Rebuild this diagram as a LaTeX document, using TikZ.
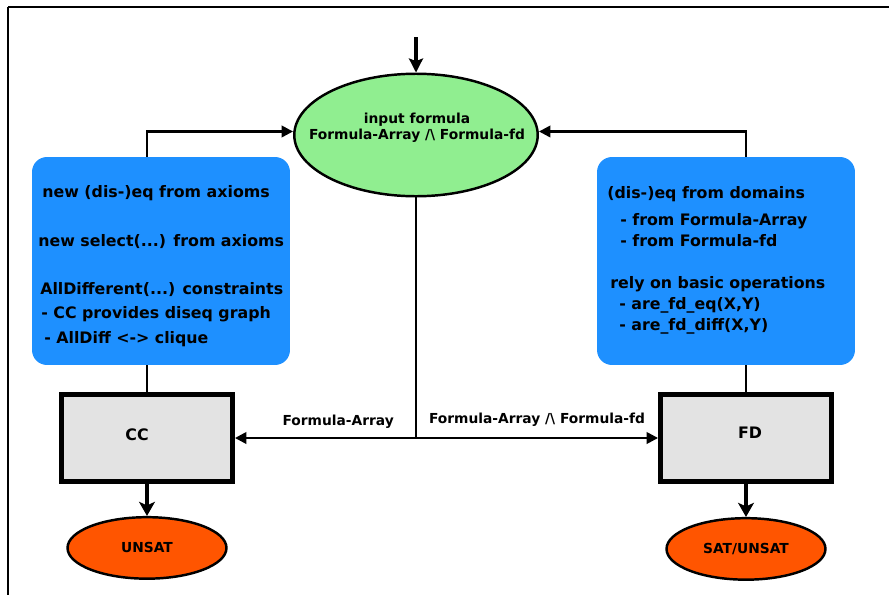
\documentclass[tikz,border=0pt]{standalone}
\usepackage{fontspec}
\setmainfont{DejaVu Sans}
\usetikzlibrary{positioning, arrows.meta, shapes.geometric}
\definecolor{verde}{HTML}{90EE90}
\definecolor{azul}{HTML}{1E90FF}
\definecolor{gris}{HTML}{E3E3E3}
\definecolor{naranja}{HTML}{FF5500}

\begin{document}
\begin{tikzpicture}[x=0.02cm, y=-0.02cm, every node/.style={inner sep=0pt},
    big/.style={font=\bfseries\fontsize{9}{14}\selectfont},
    small/.style={font=\bfseries\fontsize{7.85}{9}\selectfont},
    formula/.style={ellipse, draw, line width=1.4pt, fill=verde, minimum width=4.87cm, minimum height=2.45cm},
    infobox/.style={fill=azul, rounded corners=8.5pt, minimum width=5.16cm, minimum height=4.16cm},
    solver/.style={draw, line width=2.8pt, fill=gris, minimum width=3.42cm, minimum height=1.74cm, big},
    result/.style={ellipse, draw, line width=1.4pt, fill=naranja, minimum width=3.18cm, minimum height=1.23cm, small},
    conn/.style={line width=1.4pt, -{Triangle[length=6.5pt,width=6.5pt]}},
    thickconn/.style={line width=2.6pt, -{Stealth[length=8pt,width=9pt,inset=2pt]}}]
    \useasboundingbox (0,0) rectangle (889,595);
    % marco
    \draw[line width=1.4pt] (889,7) -- (8,7);
    \draw[line width=0.9pt] (8,7) -- (8,595);

    \node[formula] (in) at (416,135) {};
    \node[small, align=center] (intext) at (417,128) {input formula\\Formula-Array /\textbackslash{} Formula-fd};
    \coordinate (top) at (416,37);

    \node[infobox] (lbox) at (161,261) {};
    \node[infobox] (rbox) at (726,261) {};
    \node[big, align=left, anchor=north west] (ltext) at (38,185) {%
        \hspace*{2.3pt}new (dis-)eq from axioms\\[14pt]
        new select(...) from axioms\\[13pt]
        \hspace*{1.1pt}AllDifferent(...) constraints\\
        \hspace*{1.7pt}- CC provides diseq graph\\
        \hspace*{3.4pt}- AllDiff <-> clique};
    \node[big, font=\bfseries\fontsize{9}{12}\selectfont, align=left, anchor=north west] (rtext) at (607,186) {%
        (dis-)eq from domains\\[3.3pt]
        \hspace*{7.4pt}- from Formula-Array\\
        \hspace*{7.4pt}- from Formula-fd\\[12pt]
        \hspace*{1.7pt}rely on basic operations\\
        \hspace*{6.8pt}- are\_fd\_eq(X,Y)\\
        \hspace*{6.8pt}- are\_fd\_diff(X,Y)};

    \node[solver] (cc) at (147,438) {};
    \node[big] (cctext) at (137,435) {CC};
    \node[solver] (fd) at (746,438) {};
    \node[big] (fdtext) at (750,433) {FD};
    \node[result, below=0.64cm of cc] (unsat) {UNSAT};
    \node[result, below=0.66cm of fd] (sat) {SAT/UNSAT};

    \draw[line width=2.2pt, -{Stealth[length=8pt,width=8pt,inset=1.5pt]}] (top) -- (in);
    \draw[conn] (cc.north |- lbox.north) |- ([yshift=2]in.west);
    \draw[conn] (fd.north |- rbox.north) |- ([yshift=2]in.east);
    \draw[line width=1.4pt] (cc.north |- lbox.south) -- (cc.north);
    \draw[line width=1.4pt] (fd.north |- rbox.south) -- (fd.north);

    \coordinate (split) at (in.south |- cc.east);
    \draw[line width=1.4pt] (in.south) -- (split);
    \draw[conn] (split) -- node[small, above=5pt, pos=0.43]{Formula-Array} (cc.east);
    \draw[conn] (split) -- node[small, above=6pt]{Formula-Array /\textbackslash{} Formula-fd} (fd.west);

    \draw[thickconn] (cc) -- (unsat);
    \draw[thickconn] (fd) -- (sat);
\end{tikzpicture}
\end{document}
